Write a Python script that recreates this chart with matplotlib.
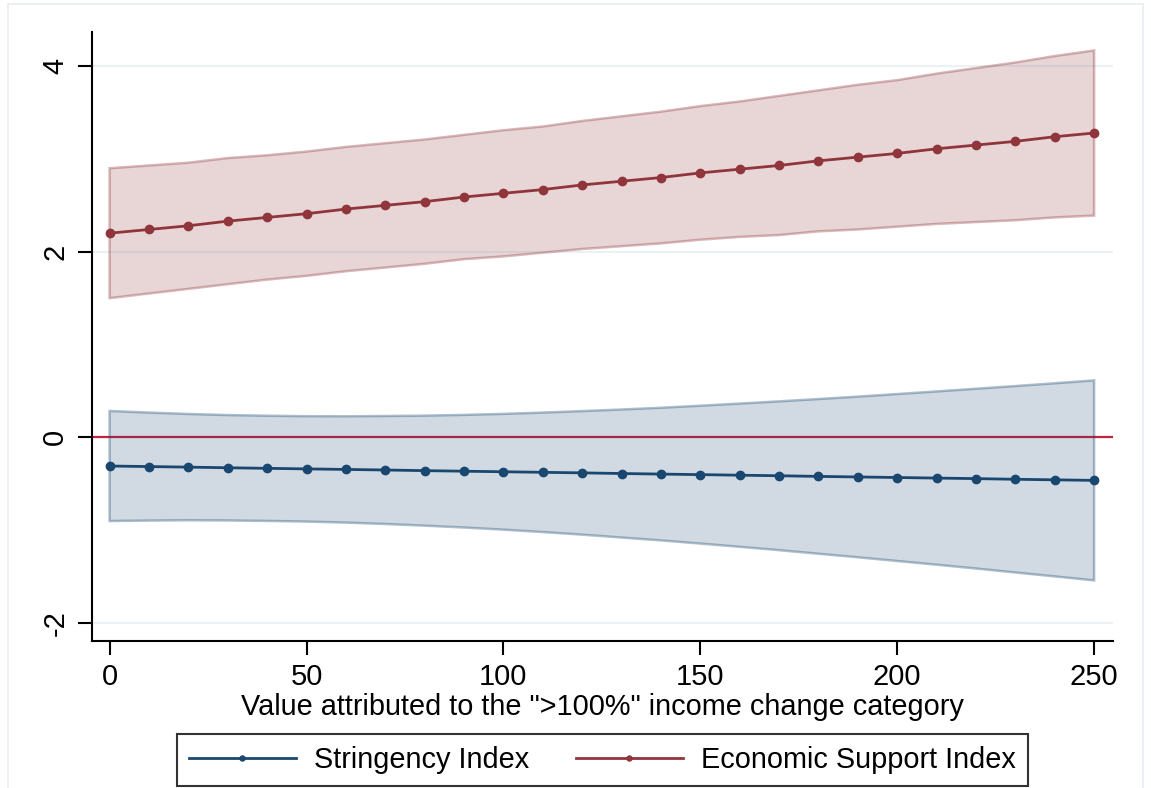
import numpy as np
import matplotlib
matplotlib.use("Agg")
import matplotlib.pyplot as plt
from matplotlib.patches import Rectangle
from matplotlib.colors import to_rgba

plt.rcParams['font.family'] = ['Liberation Sans', 'DejaVu Sans']
plt.rcParams['axes.unicode_minus'] = False

# value attributed to the ">100%" category
x_vals = list(range(0, 251, 10))

# Economic Support Index: estimate and 95% CI
es_est = [2.20, 2.24, 2.28, 2.33, 2.37, 2.41, 2.46, 2.50, 2.54, 2.59, 2.63, 2.67, 2.72,
          2.76, 2.80, 2.85, 2.89, 2.93, 2.98, 3.02, 3.06, 3.11, 3.15, 3.19, 3.24, 3.28]
es_hi = [2.90, 2.93, 2.96, 3.01, 3.04, 3.08, 3.13, 3.17, 3.21, 3.26, 3.31, 3.35, 3.41,
         3.46, 3.51, 3.57, 3.62, 3.68, 3.74, 3.80, 3.85, 3.92, 3.98, 4.04, 4.11, 4.17]
es_lo = [1.50, 1.55, 1.60, 1.65, 1.70, 1.74, 1.79, 1.83, 1.87, 1.92, 1.95, 1.99, 2.03,
         2.06, 2.09, 2.13, 2.16, 2.18, 2.22, 2.24, 2.27, 2.30, 2.32, 2.34, 2.37, 2.39]

# Stringency Index: estimate and 95% CI
si_est = [-0.310, -0.316, -0.322, -0.329, -0.335, -0.341, -0.347, -0.353, -0.360,
          -0.366, -0.372, -0.378, -0.384, -0.391, -0.397, -0.403, -0.409, -0.415,
          -0.422, -0.428, -0.434, -0.440, -0.446, -0.453, -0.459, -0.465]
si_hi = [0.283, 0.266, 0.251, 0.239, 0.232, 0.227, 0.226, 0.229, 0.233, 0.241, 0.252,
         0.266, 0.282, 0.299, 0.318, 0.340, 0.363, 0.387, 0.412, 0.438, 0.466, 0.494,
         0.523, 0.552, 0.582, 0.613]
si_lo = [-0.903, -0.898, -0.895, -0.897, -0.902, -0.909, -0.920, -0.935, -0.953,
         -0.973, -0.996, -1.022, -1.050, -1.081, -1.112, -1.146, -1.181, -1.217,
         -1.256, -1.294, -1.334, -1.374, -1.415, -1.458, -1.500, -1.543]

x_ticks = [0, 50, 100, 150, 200, 250]
y_ticks = [-2, 0, 2, 4]

navy = '#1a476f'
maroon = '#90353b'

fig = plt.figure(figsize=(11.51, 7.88), dpi=100)
ax = fig.add_axes([0.0795, 0.1865, 0.8875, 0.773])

# faint graph-region outline
fig.patches.append(Rectangle((8 / 1151, -0.05), 1135 / 1151, 1.0 - 4 / 788 + 0.05,
                             transform=fig.transFigure, fill=False,
                             edgecolor='#e9eef1', lw=1.2))

for yv in [-2, 2, 4]:
    ax.axhline(yv, color='#eaf2f3', lw=1.5, zorder=0)
ax.axhline(0, color='#c8203f', lw=1.6, zorder=1)

# confidence bands (closed polygons)
for lo, hi, c in [(si_lo, si_hi, navy), (es_lo, es_hi, maroon)]:
    ax.fill(x_vals + x_vals[::-1], hi + lo[::-1], facecolor=to_rgba(c, 0.2),
            edgecolor=to_rgba(c, 0.35), lw=1.8, zorder=2)

ax.plot(x_vals, si_est, color=navy, lw=2, marker='o', ms=6, zorder=3,
        label='Stringency Index')
ax.plot(x_vals, es_est, color=maroon, lw=2, marker='o', ms=6, zorder=3,
        label='Economic Support Index')

ax.set_xlim(-4.6, 254.8)
ax.set_ylim(-2.197, 4.37)
ax.set_xticks(x_ticks)
ax.set_yticks(y_ticks)
ax.tick_params(axis='both', length=10, width=1.5, labelsize=21, pad=6)
for lab in ax.get_yticklabels():
    lab.set_rotation(90)
    lab.set_va('center')
for s in ['top', 'right']:
    ax.spines[s].set_visible(False)
for s in ['left', 'bottom']:
    ax.spines[s].set_linewidth(1.5)

ax.set_xlabel('Value attributed to the ">100%" income change category', fontsize=20.8,
              labelpad=1)

leg = fig.legend(loc='center', bbox_to_anchor=(602.5 / 1151, 1 - 760 / 788), ncol=2,
                 fontsize=20.8, frameon=True, fancybox=False, markerscale=0.6,
                 handlelength=3.7, handletextpad=0.65, columnspacing=1.6,
                 borderpad=0.42)
leg.get_frame().set_edgecolor('black')
leg.get_frame().set_linewidth(1.5)

fig.savefig('out.png', dpi=100)
